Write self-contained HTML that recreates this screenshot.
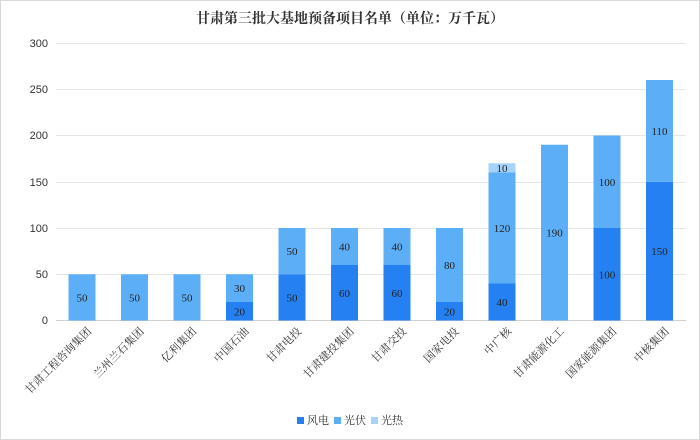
<!DOCTYPE html>
<html><head><meta charset="utf-8"><style>
body{margin:0;background:#fff}
svg{display:block;font-family:"Liberation Serif","Noto Serif CJK SC",serif}
</style></head><body>
<svg width="700" height="440" viewBox="0 0 700 440" xmlns="http://www.w3.org/2000/svg">
<rect x="0.5" y="0.5" width="699" height="439" fill="#fff" stroke="#d9d9d9"/>
<text x="350" y="23" text-anchor="middle" font-size="14" font-weight="bold" fill="#333">甘肃第三批大基地预备项目名单（单位：万千瓦）</text>
<g stroke="#e6e6e6" stroke-width="1">
<line x1="56" y1="43.5" x2="686" y2="43.5"/><line x1="56" y1="89.5" x2="686" y2="89.5"/>
<line x1="56" y1="135.5" x2="686" y2="135.5"/><line x1="56" y1="182.5" x2="686" y2="182.5"/>
<line x1="56" y1="228.5" x2="686" y2="228.5"/><line x1="56" y1="274.5" x2="686" y2="274.5"/>
</g>
<line x1="56" y1="320.5" x2="686" y2="320.5" stroke="#d0d0d0"/>
<g font-family="Liberation Sans,sans-serif" font-size="11" fill="#333" text-anchor="end">
<text x="48" y="47">300</text><text x="48" y="93">250</text><text x="48" y="139">200</text>
<text x="48" y="186">150</text><text x="48" y="232">100</text><text x="48" y="278">50</text><text x="48" y="324">0</text>
</g>
<g id="bars" font-size="11" fill="#222" text-anchor="middle"></g>
<g font-size="11" fill="#333" text-anchor="end" id="labs"></g>
<g font-size="11" fill="#333">
<rect x="297" y="417" width="7" height="7" fill="#2581f2"/><text x="307" y="424">风电</text>
<rect x="334" y="417" width="7" height="7" fill="#5caef7"/><text x="344" y="424">光伏</text>
<rect x="371" y="417" width="7" height="7" fill="#a7d3fb"/><text x="381" y="424">光热</text>
</g>
<script>
var d=[["甘肃工程咨询集团",0,50,0],["兰州兰石集团",0,50,0],["亿利集团",0,50,0],["中国石油",20,30,0],["甘肃电投",50,50,0],["甘肃建投集团",60,40,0],["甘肃交投",60,40,0],["国家电投",20,80,0],["中广核",40,120,10],["甘肃能源化工",0,190,0],["国家能源集团",100,100,0],["中核集团",150,110,0]];
var c=["#2581f2","#5caef7","#a7d3fb"],s=0.925,y0=320.5,ns="http://www.w3.org/2000/svg";
var g=document.getElementById("bars"),L=document.getElementById("labs");
d.forEach(function(r,i){var cx=82+i*52.5,base=0;
for(var k=0;k<3;k++){var v=r[k+1];if(!v)continue;
var y1=y0-(base+v)*s,h=v*s;var e=document.createElementNS(ns,"rect");
e.setAttribute("x",cx-13.5);e.setAttribute("y",y1);e.setAttribute("width",27);e.setAttribute("height",h);e.setAttribute("fill",c[k]);g.appendChild(e);
var t=document.createElementNS(ns,"text");t.setAttribute("x",cx);t.setAttribute("y",y1+h/2+4);t.textContent=v;g.appendChild(t);base+=v;}
var t=document.createElementNS(ns,"text");t.setAttribute("transform","translate("+(cx+10)+",332) rotate(-45)");t.textContent=r[0];L.appendChild(t);});
</script>
</svg>
</body></html>
